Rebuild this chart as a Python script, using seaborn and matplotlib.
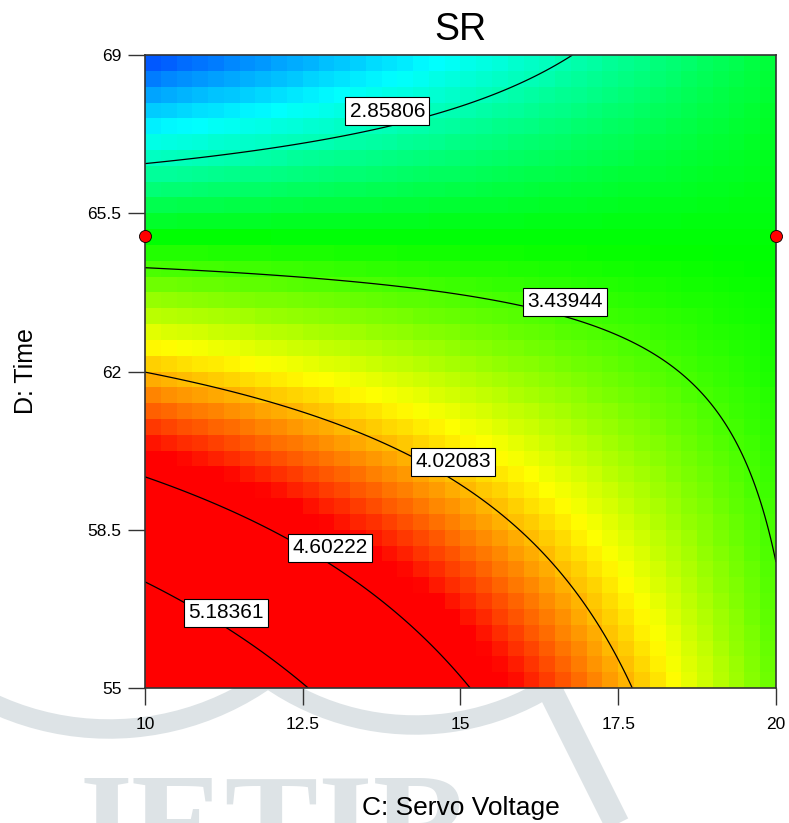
import numpy as np
import matplotlib
matplotlib.use("Agg")
import matplotlib.pyplot as plt
from matplotlib.patches import Arc
import seaborn as sns

sns.set_theme(style="white")
plt.rcParams["font.family"] = ["Liberation Sans", "DejaVu Sans"]
plt.rcParams["text.color"] = "black"

# ── Data ────────────────────────────────────────────────────────────────────
# fitted quadratic SR model in coded units: b0, C, D, C*D, C^2, D^2
sr_coef = [3.6755, -0.3415, -0.9692, 0.7906, 0.0006, -0.0076]
c_range = [10, 20]
d_range = [55, 69]
c_ticks = [10, 12.5, 15, 17.5, 20]
c_tick_labels = ["10", "12.5", "15", "17.5", "20"]
d_ticks = [55, 58.5, 62, 65.5, 69]
d_tick_labels = ["55", "58.5", "62", "65.5", "69"]
levels = [2.85806, 3.43944, 4.02083, 4.60222, 5.18361]
label_c = [13.84, 16.66, 14.88, 12.93, 11.28]
label_d = [67.76, 63.54, 60.00, 58.10, 56.66]
design_c = [10, 20]
design_d = [65, 65]


def sr_model(c, d):
    x1 = (c - 15) / 5
    x2 = (d - 62) / 7
    b = sr_coef
    return b[0] + b[1] * x1 + b[2] * x2 + b[3] * x1 * x2 + b[4] * x1 ** 2 + b[5] * x2 ** 2


cmap = sns.blend_palette(["#0000ff", "#00ffff", "#00ff00", "#ffff00", "#ff0000"], as_cmap=True)

fig = plt.figure(figsize=(7.89, 8.23), dpi=100)

# ── faint watermark behind everything ───────────────────────────────────────
bg = fig.add_axes([0, 0, 1, 1], zorder=0)
bg.set_xlim(0, 789)
bg.set_ylim(823, 0)
bg.axis("off")
wm = "#dde3e6"
bg.add_patch(Arc((109, 454), 550, 550, theta1=40, theta2=130, color=wm, lw=14))
bg.add_patch(Arc((415, 470), 510, 510, theta1=40, theta2=125, color=wm, lw=14))
bg.plot([545, 625], [680, 840], color=wm, lw=18, solid_capstyle="butt")
bg.text(62, 870, "JETIR", color=wm, fontsize=101, fontweight="bold",
        family=["Liberation Serif", "DejaVu Serif"], va="baseline", ha="left")

ax = fig.add_axes([0.1838, 0.1640, 0.7997, 0.7691], zorder=1)

# blocky colour surface
ce = np.linspace(c_range[0], c_range[1], 41)
de = np.linspace(d_range[0], d_range[1], 41)
cc, dd = np.meshgrid((ce[:-1] + ce[1:]) / 2, (de[:-1] + de[1:]) / 2)
ax.pcolormesh(ce, de, sr_model(cc, dd), cmap=cmap, vmin=2.1, vmax=4.45, shading="flat")

# smooth contour lines
cf, df_ = np.meshgrid(np.linspace(c_range[0], c_range[1], 300),
                      np.linspace(d_range[0], d_range[1], 300))
cs = ax.contour(cf, df_, sr_model(cf, df_), levels=levels, colors="black", linewidths=0.9)
labels = ax.clabel(cs, fmt="%.5f", fontsize=15, inline=False,
                   manual=list(zip(label_c, label_d)))
for t, lc, ld in zip(labels, label_c, label_d):
    t.set_rotation(0)
    t.set_position((lc, ld))
    t.set_color("black")
    t.set_bbox(dict(boxstyle="square,pad=0.2", facecolor="white", edgecolor="black", lw=0.8))

ax.scatter(design_c, design_d, s=75, color="red", edgecolor="black", linewidth=0.6,
           zorder=5, clip_on=False)

ax.set_xlim(*c_range)
ax.set_ylim(*d_range)
ax.set_xticks(c_ticks, c_tick_labels)
ax.set_yticks(d_ticks, d_tick_labels)
ax.tick_params(axis="both", direction="out", length=12, width=1, color="#333333",
               labelsize=12.5, labelcolor="black", left=True, bottom=True)
ax.tick_params(axis="x", pad=9)
ax.tick_params(axis="y", pad=5)
for s in ax.spines.values():
    s.set_color("#333333")
    s.set_linewidth(1.2)

ax.set_title("SR", fontsize=27, pad=11, color="black")
ax.set_xlabel("C: Servo Voltage", fontsize=19, color="black")
ax.set_ylabel("D: Time", fontsize=18, color="black")
ax.xaxis.set_label_coords(0.5, -0.17)
ax.yaxis.set_label_coords(-0.17, 0.5)

fig.savefig("out.png", dpi=100)
